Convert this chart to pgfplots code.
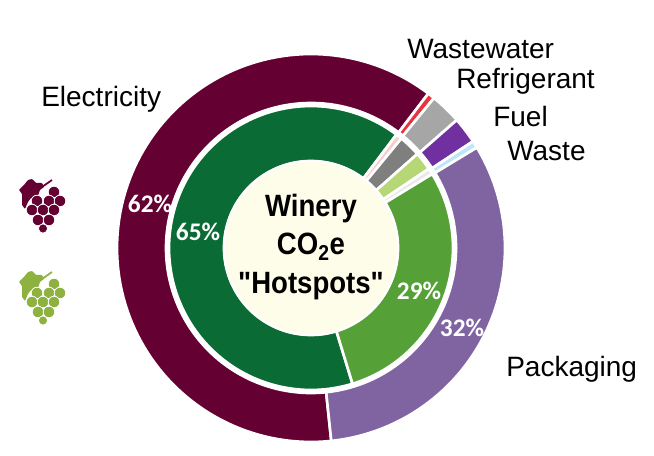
\documentclass[border=0pt]{standalone}
\usepackage{pgfplots}
\usepackage{pgfplotstable}
\usepackage{fontspec}
\pgfplotsset{compat=1.18}
\setmainfont{Liberation Sans}
\newfontfamily\titlefont{Liberation Sans}
\newfontfamily\pctfont{Carlito}

\definecolor{wineA}{HTML}{650032}
\definecolor{wineB}{HTML}{E8343C}
\definecolor{wineC}{HTML}{A6A6A6}
\definecolor{wineD}{HTML}{7030A0}
\definecolor{wineE}{HTML}{BFE6F7}
\definecolor{wineF}{HTML}{8064A2}
\definecolor{vineA}{HTML}{0B6B35}
\definecolor{vineB}{HTML}{F3CFCB}
\definecolor{vineC}{HTML}{7F7F7F}
\definecolor{vineD}{HTML}{B5D776}
\definecolor{vineE}{HTML}{E9E9E9}
\definecolor{vineF}{HTML}{56A038}
\definecolor{hub}{HTML}{FEFDE9}
\definecolor{grapeA}{HTML}{650032}
\definecolor{grapeB}{HTML}{8DB23F}

% Percent shares, clockwise, one ring each
\pgfplotstableread{
source      share colour
Electricity 62    wineA
Wastewater  0.6   wineB
Refrigerant 2.6   wineC
Fuel        2.2   wineD
Waste       0.6   wineE
Packaging   32    wineF
}\outerring
\pgfplotstableread{
source      share colour
Electricity 65    vineA
Wastewater  0.7   vineB
Refrigerant 2.5   vineC
Fuel        2.1   vineD
Waste       0.7   vineE
Packaging   29    vineF
}\innerring

\def\cx{311}
\def\cy{248}

% One annular sector: colour, start and end angle (clockwise from the top),
% outer x/y radii, inner x/y radii
\newcommand\sector[7]{%
  \pgfmathtruncatemacro\nsteps{ceil((#3-#2)/2)+1}%
  \gdef\pts{}%
  \foreach \k in {0,...,\nsteps}{%
    \pgfmathsetmacro\ang{#2+(#3-#2)*(\k/\nsteps)}%
    \pgfmathsetmacro\px{\cx+#4*sin(\ang)}%
    \pgfmathsetmacro\py{\cy-#5*cos(\ang)}%
    \xdef\pts{\pts (\px,\py)}%
    \ifnum\k=0 \xdef\firstpt{(\px,\py)}\fi
  }%
  \foreach \k in {\nsteps,...,0}{%
    \pgfmathsetmacro\ang{#2+(#3-#2)*(\k/\nsteps)}%
    \pgfmathsetmacro\px{\cx+#6*sin(\ang)}%
    \pgfmathsetmacro\py{\cy-#7*cos(\ang)}%
    \xdef\pts{\pts (\px,\py)}%
  }%
  \edef\sectorplot{\noexpand\addplot[fill=#1,draw=white,line width=2pt,line join=miter,forget plot] coordinates {\pts\space\firstpt};}%
  \sectorplot
}

% A whole ring from its table: table, start angle, four radii
\newcommand\ring[6]{%
  \pgfplotstablegetrowsof{#1}%
  \pgfmathtruncatemacro\lastrow{\pgfplotsretval-1}%
  \xdef\cumang{#2}%
  \pgfplotsforeachungrouped \r in {0,...,\lastrow}{%
    \pgfplotstablegetelem{\r}{share}\of{#1}%
    \pgfmathsetmacro\nextang{\cumang+3.6*\pgfplotsretval}%
    \pgfplotstablegetelem{\r}{colour}\of{#1}%
    \edef\segcol{\pgfplotsretval}%
    \edef\segcall{\noexpand\sector{\segcol}{\cumang}{\nextang}{#3}{#4}{#5}{#6}}%
    \segcall
    \xdef\cumang{\nextang}%
  }%
}

% Grape bunch icon: colour, x and y offset
\newcommand\grapes[3]{%
  \fill[#1,rounded corners=0.5pt]
    (axis cs:#2+19,#3+30) -- (axis cs:#2+24,#3+25) -- (axis cs:#2+28,#3+20) -- (axis cs:#2+32,#3+19)
    -- (axis cs:#2+36,#3+23) -- (axis cs:#2+42,#3+23) -- (axis cs:#2+44,#3+27) -- (axis cs:#2+40,#3+30)
    -- (axis cs:#2+38,#3+36) -- (axis cs:#2+31,#3+38) -- (axis cs:#2+28,#3+42) -- (axis cs:#2+25,#3+49)
    -- (axis cs:#2+22,#3+45) -- (axis cs:#2+22,#3+34) -- cycle;
  \draw[#1,line width=1.3pt] (axis cs:#2+42,#3+27) -- (axis cs:#2+52,#3+20);
  \foreach \gx/\gy/\gr in {54/32/5.8,37/41/5.8,49/41/5.8,60/41/5.8,32/50/5.8,43/50/5.8,54/50/5.8,38/60/5.8,49/60/5.8,43/68.5/4.6}{%
    \edef\grapecall{\noexpand\filldraw[fill=#1,draw=white,line width=0.6pt] (axis cs:#2+\gx,#3+\gy) circle[radius=\gr];}%
    \grapecall
  }%
}

\begin{document}
\begin{tikzpicture}
\begin{axis}[
  scale only axis,
  width=490.5pt,
  height=342pt,
  xmin=0, xmax=654,
  ymin=0, ymax=456,
  y dir=reverse,
  hide axis,
  clip=false,
]
\path (axis cs:0,0) (axis cs:654,456);
\ring{\outerring}{174}{194}{194}{145}{145}
\ring{\innerring}{163}{142}{142}{87}{87}

% Centre disc and its title
\fill[hub,draw=white,line width=1.5pt] (axis cs:\cx,\cy) circle[radius=87];
\node[align=center,font=\titlefont\fontsize{22}{30}\selectfont\bfseries,inner sep=0] at (axis cs:311,247)
  {\scalebox{0.94}[1.05]{Winery}\\[-1pt]\scalebox{0.94}[1.05]{CO$_{\mathbf 2}$e}\\[-1pt]\scalebox{0.94}[1.05]{"Hotspots"}};

% Source names
\node[anchor=west,font=\fontsize{21}{24}\selectfont,inner sep=0] at (axis cs:41,99) {Electricity};
\node[anchor=west,font=\fontsize{21}{24}\selectfont,inner sep=0] at (axis cs:407,49) {Wastewater};
\node[anchor=west,font=\fontsize{21}{24}\selectfont,inner sep=0] at (axis cs:456,81) {Refrigerant};
\node[anchor=west,font=\fontsize{21}{24}\selectfont,inner sep=0] at (axis cs:493,116) {Fuel};
\node[anchor=west,font=\fontsize{21}{24}\selectfont,inner sep=0] at (axis cs:507,151) {Waste};
\node[anchor=west,font=\fontsize{21}{24}\selectfont,inner sep=0] at (axis cs:506,369) {Packaging};

% Share labels
\node[white,font=\pctfont\fontsize{19}{20}\selectfont\bfseries,inner sep=0] at (axis cs:150,204) {62\%};
\node[white,font=\pctfont\fontsize{19}{20}\selectfont\bfseries,inner sep=0] at (axis cs:198,232) {65\%};
\node[white,font=\pctfont\fontsize{19}{20}\selectfont\bfseries,inner sep=0] at (axis cs:419,291) {29\%};
\node[white,font=\pctfont\fontsize{19}{20}\selectfont\bfseries,inner sep=0] at (axis cs:462,328) {32\%};

\grapes{grapeA}{0}{160}
\grapes{grapeB}{0}{252}
\end{axis}
\end{tikzpicture}
\end{document}
